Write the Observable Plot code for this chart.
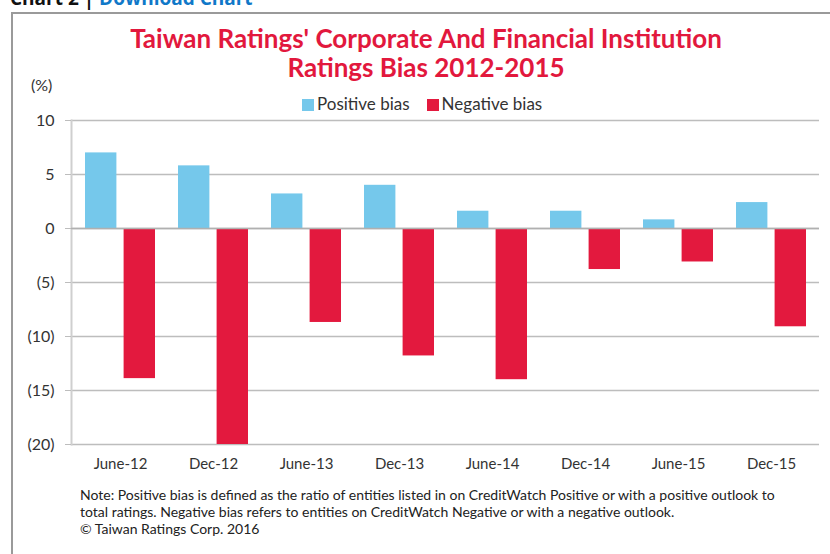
<!DOCTYPE html>
<html>
<head>
<meta charset="utf-8">
<script src="https://cdn.jsdelivr.net/npm/d3@7"></script>
<script src="https://cdn.jsdelivr.net/npm/@observablehq/plot@0.6"></script>
<style>
  html, body { margin: 0; padding: 0; background: #fff; }
  #wrap { position: relative; width: 830px; height: 554px; overflow: hidden; font-family: Lato, "Open Sans", sans-serif; color: #333; }
  #header { position: absolute; left: 10px; top: -15px; font: bold 19px "Open Sans", sans-serif; color: #111; white-space: nowrap; }
  #header .link { color: #1078c8; }
  #frame { position: absolute; left: 11px; top: 12px; width: 840px; height: 600px; border-left: 2px solid #9a9a9a; border-top: 2px solid #9a9a9a; }
  #title { position: absolute; left: 0; width: 852px; top: 24px; text-align: center; font: bold 26px Lato, sans-serif; line-height: 29px; color: #e2183d; }
  #title div { height: 29px; }
  #unit { position: absolute; left: 31px; top: 75px; font-size: 16px; color: #333; }
  #legend { position: absolute; left: 302px; top: 93px; font-size: 17px; color: #333; white-space: nowrap; }
  #legend span.sw { display: inline-block; width: 12px; height: 12px; margin-right: 3px; vertical-align: -1px; }
  #legend span.item { margin-right: 17px; }
  #chart { position: absolute; left: 0; top: 100px; }
  #note { position: absolute; left: 80px; top: 486px; font-size: 14px; line-height: 17px; color: #222; }
</style>
</head>
<body>
<div id="wrap">
  <div id="frame"></div>
  <div id="header">Chart 2 | <span class="link">Download Chart</span></div>
  <div id="title"><div>Taiwan Ratings' Corporate And Financial Institution</div><div>Ratings Bias 2012-2015</div></div>
  <div id="unit">(%)</div>
  <div id="legend"></div>
  <div id="chart"></div>
  <div id="note">Note: Positive bias is defined as the ratio of entities listed in on CreditWatch Positive or with a positive outlook to<br>total ratings. Negative bias refers to entities on CreditWatch Negative or with a negative outlook.<br>© Taiwan Ratings Corp. 2016</div>
</div>
<script>
const categories = ["June-12", "Dec-12", "June-13", "Dec-13", "June-14", "Dec-14", "June-15", "Dec-15"];
const positiveBias = [7.0, 5.8, 3.2, 4.0, 1.6, 1.6, 0.8, 2.4];
const negativeBias = [-13.9, -20.0, -8.7, -11.8, -14.0, -3.8, -3.1, -9.1];
const seriesNames = ["Positive bias", "Negative bias"];
const seriesColors = ["#75c8eb", "#e3193e"];
const yTicks = [10, 5, 0, -5, -10, -15, -20];
const yTickLabels = ["10", "5", "0", "(5)", "(10)", "(15)", "(20)"];

const posData = categories.map((c, i) => ({category: c, value: positiveBias[i]}));
const negData = categories.map((c, i) => ({category: c, value: negativeBias[i]}));
const labelOf = new Map(yTicks.map((t, i) => [t, yTickLabels[i]]));

// legend
const legend = document.getElementById("legend");
seriesNames.forEach((n, i) => {
  const item = document.createElement("span");
  item.className = "item";
  item.innerHTML = `<span class="sw" style="background:${seriesColors[i]}"></span>${n}`;
  legend.appendChild(item);
});

const barW = 31.5;
const chart = Plot.plot({
  width: 830,
  height: 380,
  marginTop: 20,
  marginBottom: 36,
  marginLeft: 71,
  marginRight: 11,
  style: {fontFamily: "Lato, sans-serif", color: "#333", background: "transparent"},
  x: {type: "band", domain: categories, paddingInner: 0.25, paddingOuter: 0.125, label: null},
  y: {domain: [-20, 10], label: null},
  marks: [
    Plot.ruleY(yTicks, {stroke: "#bdbdbd", strokeWidth: 1.5}),
    Plot.frame({anchor: "left", stroke: "#cfcfcf", strokeWidth: 2}),
    Plot.barY(posData, {x: "category", y: "value", fill: seriesColors[0], insetRight: 70.1 - barW}),
    Plot.barY(negData, {x: "category", y: "value", fill: seriesColors[1], insetLeft: 70.1 - barW}),
    Plot.ruleY([0], {stroke: "#b0b0b0", strokeWidth: 1.5}),
    Plot.axisY({ticks: yTicks, tickFormat: d => labelOf.get(d), tickSize: 6, tickPadding: 11, stroke: "#bdbdbd", fontSize: 16, fill: "#333"}),
    Plot.axisX({tickSize: 0, tickPadding: 14, fontSize: 15, fill: "#333"})
  ]
});
document.getElementById("chart").appendChild(chart);
</script>
</body>
</html>
